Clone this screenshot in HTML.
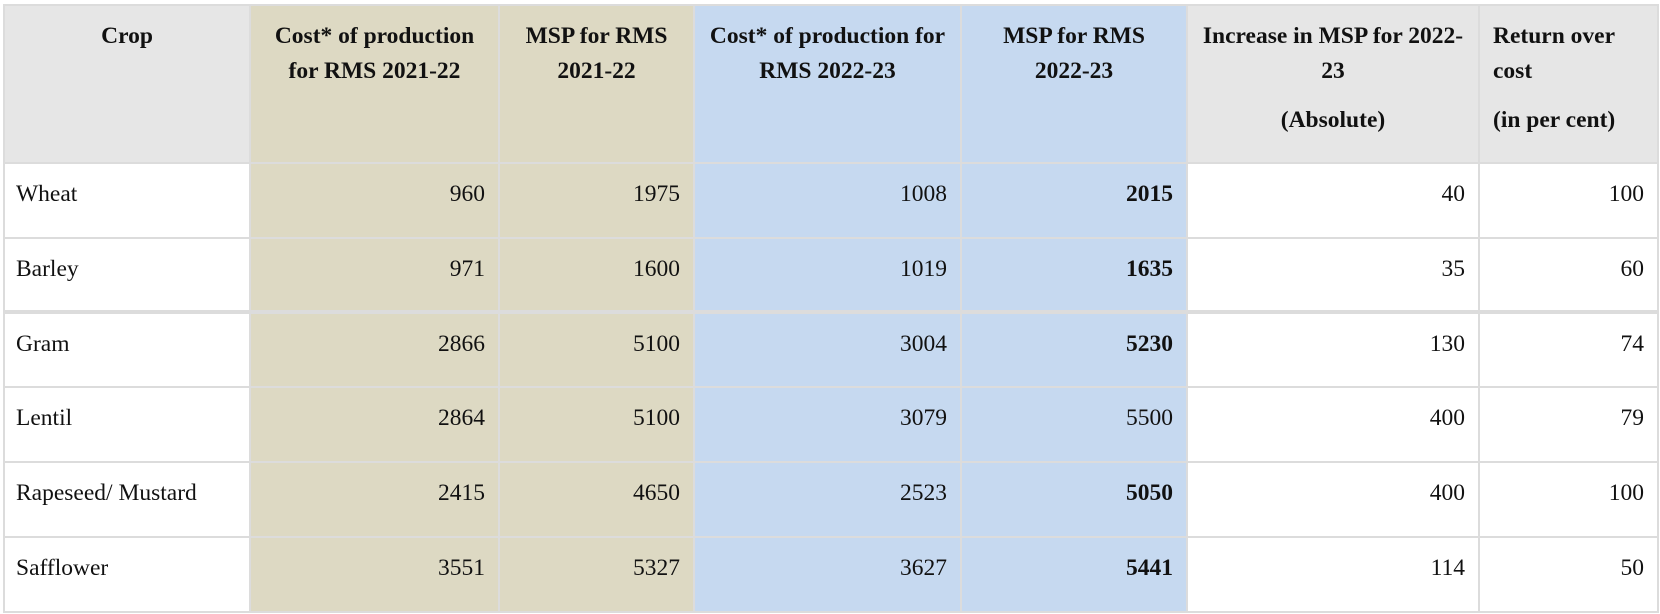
<!DOCTYPE html>
<html><head><meta charset="utf-8">
<style>
html,body{margin:0;padding:0;background:#fff;width:1660px;height:614px;overflow:hidden}
table{position:absolute;left:3px;top:4px;border-collapse:collapse;table-layout:fixed;font-family:"Liberation Serif",serif;font-size:23.5px;color:#111}
td,th{border:2px solid #dcdcdc;padding:0 13px;vertical-align:top}
th{font-weight:bold;text-align:center;line-height:35px;padding-top:13px;background:#e6e6e6}
th p{margin:0}
th p+p{margin-top:14px}
td{padding-top:17px;line-height:26px;text-align:right}
td.c{text-align:left;padding-left:11px}
.t{background:#ddd9c3}
.b{background:#c6d9f0}
tr.thick td{border-bottom:4px solid #dcdcdc}
</style></head><body>
<table>
<colgroup><col style="width:246px"><col style="width:249px"><col style="width:195px"><col style="width:267px"><col style="width:226px"><col style="width:292px"><col style="width:179px"></colgroup>
<tr style="height:158px">
<th>Crop</th>
<th class="t">Cost* of production for RMS 2021-22</th>
<th class="t">MSP for RMS 2021-22</th>
<th class="b">Cost* of production for RMS 2022-23</th>
<th class="b">MSP for RMS 2022-23</th>
<th><p>Increase in MSP for 2022-23</p><p>(Absolute)</p></th>
<th style="text-align:left"><p>Return over cost</p><p>(in per cent)</p></th>
</tr>
<tr style="height:75px"><td class="c">Wheat</td><td class="t">960</td><td class="t">1975</td><td class="b">1008</td><td class="b"><b>2015</b></td><td>40</td><td>100</td></tr>
<tr style="height:74px" class="thick"><td class="c">Barley</td><td class="t">971</td><td class="t">1600</td><td class="b">1019</td><td class="b"><b>1635</b></td><td>35</td><td>60</td></tr>
<tr style="height:75px"><td class="c">Gram</td><td class="t">2866</td><td class="t">5100</td><td class="b">3004</td><td class="b"><b>5230</b></td><td>130</td><td>74</td></tr>
<tr style="height:75px"><td class="c">Lentil</td><td class="t">2864</td><td class="t">5100</td><td class="b">3079</td><td class="b">5500</td><td>400</td><td>79</td></tr>
<tr style="height:75px"><td class="c">Rapeseed/ Mustard</td><td class="t">2415</td><td class="t">4650</td><td class="b">2523</td><td class="b"><b>5050</b></td><td>400</td><td>100</td></tr>
<tr style="height:75px"><td class="c">Safflower</td><td class="t">3551</td><td class="t">5327</td><td class="b">3627</td><td class="b"><b>5441</b></td><td>114</td><td>50</td></tr>
</table>
</body></html>
